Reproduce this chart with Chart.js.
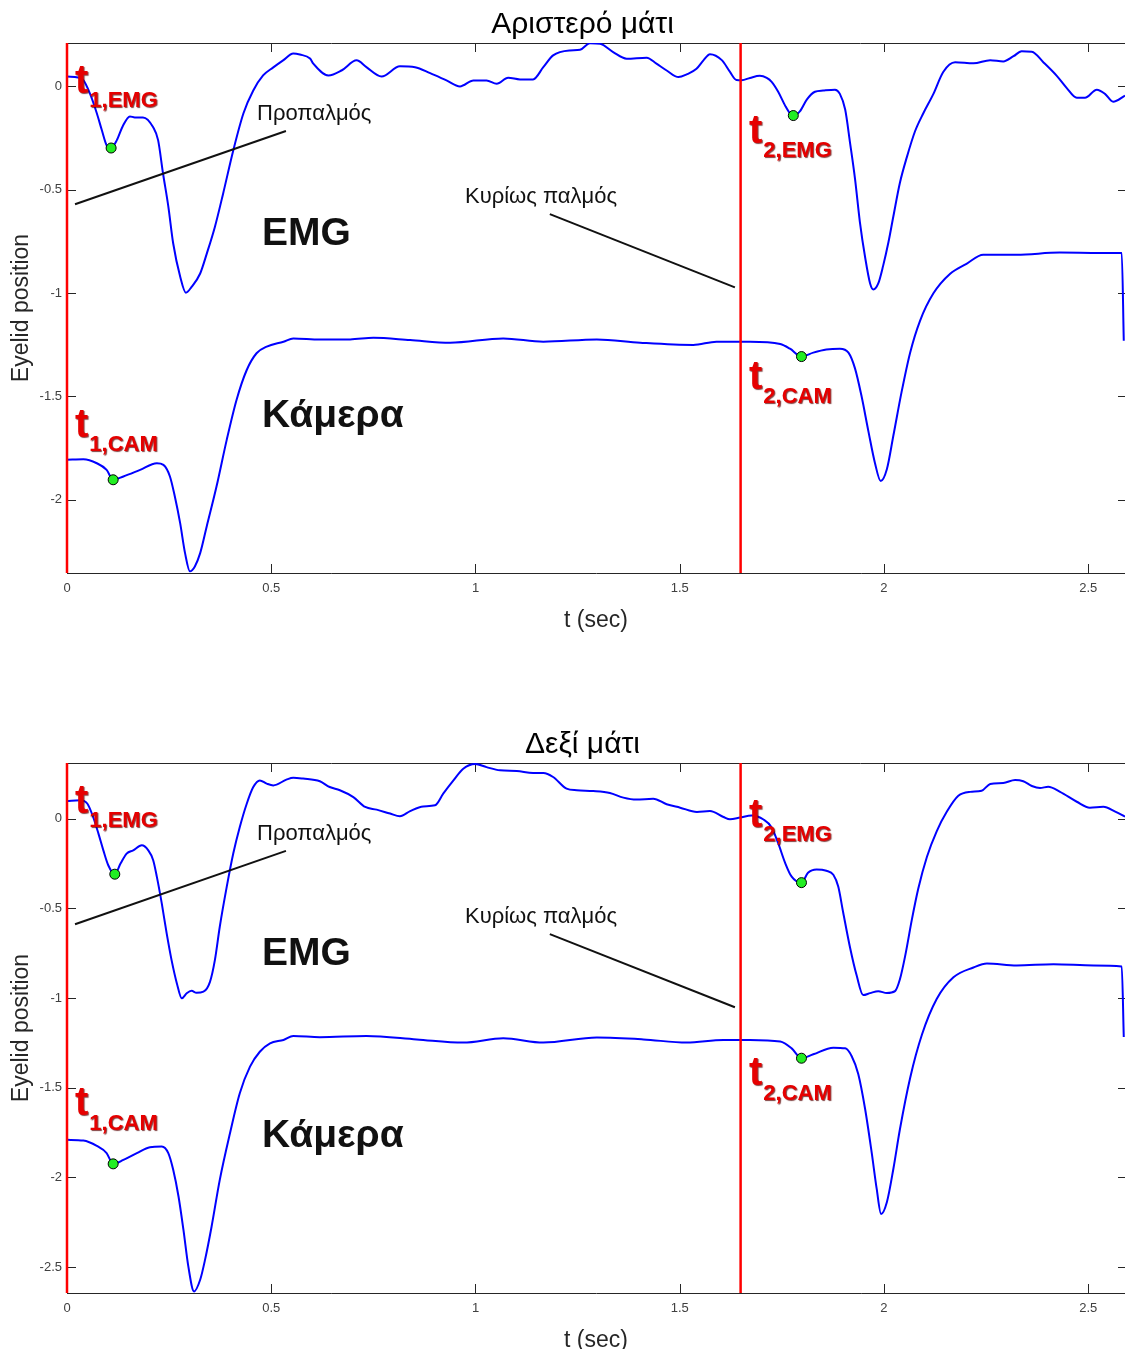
<!DOCTYPE html>
<html>
<head>
<meta charset="utf-8">
<title>Eyelid position</title>
<script src="https://cdn.jsdelivr.net/npm/chart.js@4.4.1/dist/chart.umd.min.js"></script>
<style>
  html, body { margin: 0; padding: 0; background: #fff; overflow: hidden; }
  .panel { position: absolute; left: 0; }
</style>
</head>
<body>
<canvas id="leftEye" class="panel" width="1125" height="640" style="top:0px"></canvas>
<canvas id="rightEye" class="panel" width="1125" height="640" style="top:720px"></canvas>
<script>
// time axis (sec) and y ranges
var tRange = [0, 2.59];
var tickStep = 0.5;
var leftRange = [-2.354, 0.21];
var rightRange = [-2.645, 0.31];
var markerT = [0, 1.649];

// left eye - EMG trace
var leftEmgT = [0.000, 0.027, 0.040, 0.056, 0.073, 0.085, 0.097, 0.108, 0.122, 0.137, 0.154, 0.166, 0.186, 0.211, 0.223,
  0.235, 0.248, 0.260, 0.277, 0.291, 0.305, 0.326, 0.342, 0.362, 0.382, 0.407, 0.432, 0.456, 0.480, 0.505, 0.529, 0.554,
  0.570, 0.595, 0.603, 0.640, 0.672, 0.709, 0.733, 0.770, 0.815, 0.852, 0.889, 0.929, 0.962, 0.995, 1.027, 1.052, 1.080,
  1.109, 1.141, 1.166, 1.190, 1.231, 1.256, 1.280, 1.305, 1.337, 1.370, 1.419, 1.443, 1.468, 1.497, 1.517, 1.541, 1.558,
  1.574, 1.603, 1.623, 1.639, 1.652, 1.672, 1.696, 1.713, 1.725, 1.741, 1.758, 1.770, 1.778, 1.794, 1.811, 1.831, 1.851,
  1.880, 1.892, 1.905, 1.917, 1.929, 1.941, 1.954, 1.966, 1.974, 1.986, 1.998, 2.011, 2.023, 2.039, 2.056, 2.076, 2.096,
  2.121, 2.145, 2.174, 2.219, 2.260, 2.292, 2.317, 2.337, 2.362, 2.390, 2.423, 2.447, 2.472, 2.492, 2.521, 2.541, 2.561, 2.590];
var leftEmgY = [0.048, 0.043, 0.030, -0.034, -0.130, -0.210, -0.285, -0.298, -0.260, -0.190, -0.145, -0.150, -0.150, -0.198, -0.260,
  -0.420, -0.580, -0.760, -0.920, -0.998, -0.970, -0.905, -0.810, -0.680, -0.520, -0.310, -0.130, -0.020, 0.053, 0.092, 0.126, 0.159,
  0.154, 0.135, 0.110, 0.053, 0.077, 0.126, 0.093, 0.048, 0.097, 0.093, 0.064, 0.029, 0.000, 0.029, 0.029, 0.013, 0.042,
  0.034, 0.034, 0.093, 0.150, 0.174, 0.177, 0.209, 0.206, 0.166, 0.134, 0.139, 0.110, 0.077, 0.045, 0.058, 0.085, 0.126,
  0.156, 0.127, 0.070, 0.031, 0.030, 0.041, 0.051, 0.041, 0.022, -0.026, -0.093, -0.131, -0.141, -0.121, -0.064, -0.026, -0.020,
  -0.016, -0.036, -0.112, -0.274, -0.446, -0.656, -0.829, -0.953, -0.982, -0.953, -0.867, -0.753, -0.628, -0.466, -0.342, -0.217, -0.131,
  -0.036, 0.070, 0.117, 0.112, 0.127, 0.121, 0.146, 0.170, 0.168, 0.117, 0.051, -0.007, -0.055, -0.055, -0.016, -0.036, -0.074, -0.045];

// left eye - camera trace
var leftCamT = [0.000, 0.040, 0.073, 0.097, 0.113, 0.138, 0.179, 0.220, 0.236, 0.252, 0.264, 0.277, 0.289, 0.301, 0.313,
  0.326, 0.342, 0.366, 0.391, 0.415, 0.440, 0.464, 0.489, 0.530, 0.554, 0.619, 0.693, 0.750, 0.840, 0.938, 1.068, 1.166,
  1.297, 1.403, 1.533, 1.590, 1.672, 1.746, 1.770, 1.798, 1.827, 1.859, 1.892, 1.913, 1.929, 1.945, 1.962, 1.978, 1.992,
  2.007, 2.023, 2.043, 2.064, 2.088, 2.121, 2.162, 2.202, 2.243, 2.325, 2.430, 2.529, 2.582, 2.587];
var leftCamY = [-1.806, -1.804, -1.823, -1.855, -1.903, -1.887, -1.855, -1.823, -1.831, -1.887, -1.984, -2.113, -2.258, -2.346, -2.322,
  -2.258, -2.129, -1.936, -1.710, -1.517, -1.372, -1.291, -1.259, -1.235, -1.219, -1.224, -1.224, -1.216, -1.227, -1.240, -1.219, -1.235,
  -1.224, -1.240, -1.251, -1.235, -1.235, -1.246, -1.269, -1.307, -1.288, -1.273, -1.269, -1.288, -1.364, -1.498, -1.670, -1.823, -1.909,
  -1.852, -1.689, -1.479, -1.288, -1.135, -1.001, -0.906, -0.858, -0.814, -0.814, -0.804, -0.806, -0.806, -1.230];

// right eye - EMG trace
var rightEmgT = [0.000, 0.032, 0.050, 0.064, 0.077, 0.089, 0.101, 0.117, 0.131, 0.146, 0.162, 0.183, 0.199, 0.211, 0.220,
  0.232, 0.244, 0.256, 0.269, 0.281, 0.293, 0.305, 0.317, 0.334, 0.350, 0.362, 0.374, 0.391, 0.407, 0.423, 0.440, 0.456,
  0.472, 0.489, 0.505, 0.537, 0.554, 0.578, 0.619, 0.643, 0.668, 0.701, 0.730, 0.758, 0.791, 0.815, 0.840, 0.872, 0.901,
  0.921, 0.946, 0.970, 0.999, 1.027, 1.060, 1.101, 1.141, 1.166, 1.190, 1.223, 1.248, 1.288, 1.329, 1.362, 1.394, 1.435,
  1.468, 1.501, 1.542, 1.574, 1.607, 1.623, 1.648, 1.676, 1.705, 1.725, 1.741, 1.758, 1.774, 1.798, 1.814, 1.835, 1.859,
  1.876, 1.888, 1.900, 1.917, 1.933, 1.949, 1.966, 1.986, 2.007, 2.027, 2.039, 2.052, 2.068, 2.084, 2.105, 2.129, 2.154,
  2.182, 2.211, 2.239, 2.260, 2.292, 2.321, 2.341, 2.362, 2.382, 2.402, 2.431, 2.472, 2.504, 2.537, 2.566, 2.590];
var rightEmgY = [0.098, 0.102, 0.083, 0.009, -0.084, -0.177, -0.260, -0.310, -0.251, -0.195, -0.177, -0.149, -0.177, -0.232, -0.325,
  -0.473, -0.640, -0.789, -0.919, -1.002, -0.974, -0.960, -0.971, -0.965, -0.910, -0.789, -0.603, -0.381, -0.195, -0.047, 0.083, 0.176,
  0.213, 0.195, 0.185, 0.217, 0.228, 0.223, 0.208, 0.176, 0.158, 0.120, 0.065, 0.050, 0.028, 0.013, 0.042, 0.068, 0.074,
  0.139, 0.213, 0.278, 0.305, 0.287, 0.269, 0.265, 0.254, 0.254, 0.232, 0.167, 0.158, 0.154, 0.143, 0.117, 0.106, 0.111,
  0.080, 0.061, 0.037, 0.042, 0.009, -0.004, 0.006, 0.017, -0.005, -0.049, -0.137, -0.247, -0.324, -0.357, -0.302, -0.284, -0.291,
  -0.313, -0.379, -0.522, -0.720, -0.874, -0.984, -0.973, -0.962, -0.973, -0.962, -0.896, -0.764, -0.566, -0.390, -0.214, -0.071, 0.039,
  0.127, 0.149, 0.155, 0.193, 0.199, 0.215, 0.208, 0.182, 0.171, 0.177, 0.149, 0.094, 0.061, 0.066, 0.039, 0.011];

// right eye - camera trace
var rightCamT = [0.000, 0.040, 0.073, 0.097, 0.113, 0.138, 0.171, 0.203, 0.232, 0.248, 0.260, 0.273, 0.285, 0.297, 0.311,
  0.326, 0.338, 0.354, 0.374, 0.399, 0.423, 0.448, 0.472, 0.497, 0.530, 0.554, 0.619, 0.733, 0.856, 0.970, 1.068, 1.166,
  1.297, 1.411, 1.517, 1.607, 1.672, 1.746, 1.774, 1.798, 1.827, 1.876, 1.905, 1.921, 1.937, 1.954, 1.970, 1.982, 1.993,
  2.007, 2.023, 2.039, 2.064, 2.093, 2.129, 2.170, 2.219, 2.252, 2.325, 2.415, 2.513, 2.582, 2.587];
var rightCamY = [-1.791, -1.795, -1.825, -1.865, -1.925, -1.903, -1.865, -1.832, -1.828, -1.865, -1.958, -2.107, -2.292, -2.497, -2.636,
  -2.571, -2.459, -2.274, -2.014, -1.754, -1.531, -1.383, -1.300, -1.253, -1.234, -1.212, -1.219, -1.212, -1.231, -1.249, -1.225, -1.249,
  -1.221, -1.231, -1.249, -1.234, -1.234, -1.243, -1.281, -1.336, -1.314, -1.277, -1.281, -1.325, -1.424, -1.622, -1.864, -2.062, -2.205,
  -2.139, -1.952, -1.732, -1.446, -1.204, -1.006, -0.885, -0.830, -0.808, -0.819, -0.812, -0.819, -0.825, -1.218];

// onset points (t1, t2 for EMG and camera)
var leftDotsT = [0.108, 0.113, 1.778, 1.798];
var leftDotsY = [-0.298, -1.903, -0.141, -1.307];
var rightDotsT = [0.117, 0.113, 1.798, 1.798];
var rightDotsY = [-0.310, -1.925, -0.357, -1.336];

// pointer lines for the labels
var leftPreT = [0.0196, 0.536], leftPreY = [-0.570, -0.216];
var leftMainT = [1.182, 1.635], leftMainY = [-0.618, -0.972];
var rightPreT = [0.0196, 0.536], rightPreY = [-0.589, -0.180];
var rightMainT = [1.182, 1.635], rightMainY = [-0.644, -1.052];

Chart.defaults.font.family = "'Liberation Sans', Arial, sans-serif";

function pts(ts, ys) {
  return ts.map(function (t, i) { return { x: t, y: ys[i] }; });
}

// matlab-like tick text: 1 not 1.0
function tickText(v) {
  return String(Math.round(v * 10) / 10);
}

// no extra room for labels, the plot box is fixed
function fixBox(size, key) {
  return function (s) {
    s[key] = size;
    s.paddingLeft = 0; s.paddingRight = 0; s.paddingTop = 0; s.paddingBottom = 0;
  };
}

// top edge + inner tick marks (matlab style), right edge is cut off in the original
var framePlugin = {
  id: 'frame',
  beforeDatasetsDraw: function (chart) {
    var ctx = chart.ctx, a = chart.chartArea;
    var xs = chart.scales.x, ys = chart.scales.y;
    ctx.save();
    ctx.strokeStyle = '#262626';
    ctx.lineWidth = 1;
    ctx.beginPath();
    ctx.moveTo(a.left, a.top + 0.5); ctx.lineTo(a.right, a.top + 0.5);
    xs.ticks.forEach(function (t) {
      var px = Math.round(xs.getPixelForValue(t.value)) + 0.5;
      ctx.moveTo(px, a.bottom); ctx.lineTo(px, a.bottom - 9);
      ctx.moveTo(px, a.top); ctx.lineTo(px, a.top + 9);
    });
    ys.ticks.forEach(function (t) {
      var py = Math.round(ys.getPixelForValue(t.value)) + 0.5;
      ctx.moveTo(a.left, py); ctx.lineTo(a.left + 9, py);
      ctx.moveTo(a.right, py); ctx.lineTo(a.right - 7, py);
    });
    ctx.stroke();
    ctx.restore();
  }
};

// title, t-labels and text notes
var notesPlugin = {
  id: 'notes',
  afterDatasetsDraw: function (chart, args, opts) {
    var ctx = chart.ctx;
    var fam = Chart.defaults.font.family;
    ctx.save();
    ctx.textBaseline = 'alphabetic';
    ctx.textAlign = 'center';
    ctx.fillStyle = '#000';
    ctx.font = '30px ' + fam;
    ctx.fillText(opts.title, 582.5, 33);
    ctx.textAlign = 'left';
    opts.texts.forEach(function (n) {
      ctx.font = (n.bold ? 'bold ' : '') + n.size + 'px ' + fam;
      ctx.fillStyle = '#111';
      ctx.fillText(n.text, n.x, n.y);
    });
    ctx.shadowColor = 'rgba(90,0,0,0.75)';
    ctx.shadowOffsetX = 1;
    ctx.shadowOffsetY = 1;
    ctx.shadowBlur = 1;
    ctx.fillStyle = '#e60000';
    opts.marks.forEach(function (m) {
      ctx.font = 'bold 40px ' + fam;
      ctx.fillText('t', m.x, m.y);
      var w = ctx.measureText('t').width;
      ctx.font = 'bold 22px ' + fam;
      ctx.fillText(m.sub, m.x + w + 1, m.sub_y);
    });
    ctx.restore();
  }
};

function makeChart(id, title, range, emg, cam, dots, pre, main, marks) {
  var blue = { borderColor: '#0000ff', borderWidth: 2, pointRadius: 0, fill: false, cubicInterpolationMode: 'monotone', order: 3 };
  var datasets = [
    Object.assign({ data: pts(emg[0], emg[1]) }, blue),
    Object.assign({ data: pts(cam[0], cam[1]) }, blue),
    { data: pts(pre[0], pre[1]), borderColor: '#111', borderWidth: 2, pointRadius: 0, order: 2 },
    { data: pts(main[0], main[1]), borderColor: '#111', borderWidth: 2, pointRadius: 0, order: 2 }
  ];
  markerT.forEach(function (t) {
    datasets.push({ data: [{ x: t, y: range[0] }, { x: t, y: range[1] }], borderColor: '#ff0000', borderWidth: 2.5,
      pointRadius: 0, clip: 3, order: 1 });
  });
  datasets.push({ data: pts(dots[0], dots[1]), showLine: false, pointRadius: 5, pointBackgroundColor: '#22ee22',
    pointBorderColor: '#000', pointBorderWidth: 1, order: 0 });

  return new Chart(document.getElementById(id).getContext('2d'), {
    type: 'line',
    data: { datasets: datasets },
    options: {
      responsive: false,
      animation: false,
      devicePixelRatio: 1,
      layout: { autoPadding: false, padding: { top: 43, right: 0, bottom: 0, left: 0 } },
      plugins: {
        legend: { display: false },
        tooltip: { enabled: false },
        notes: {
          title: title,
          texts: [
            { text: 'Προπαλμός', x: 257, y: 120, size: 22 },
            { text: 'Κυρίως παλμός', x: 465, y: 203, size: 22 },
            { text: 'EMG', x: 262, y: 245, size: 39, bold: true },
            { text: 'Κάμερα', x: 262, y: 427, size: 39, bold: true }
          ],
          marks: marks
        }
      },
      scales: {
        x: {
          type: 'linear', min: tRange[0], max: tRange[1],
          afterFit: fixBox(67, 'height'),
          grid: { display: false, drawTicks: false },
          border: { display: true, color: '#262626' },
          ticks: { stepSize: tickStep, includeBounds: false, padding: 8, color: '#404040', font: { size: 13 },
            maxRotation: 0, autoSkip: false, callback: tickText },
          title: { display: true, text: 't (sec)', color: '#262626', font: { size: 23 }, padding: { top: 0, bottom: 6 } }
        },
        y: {
          type: 'linear', min: range[0], max: range[1],
          afterFit: fixBox(67, 'width'),
          grid: { display: false, drawTicks: false },
          border: { display: true, color: '#262626' },
          ticks: { stepSize: tickStep, includeBounds: false, padding: 5, color: '#404040', font: { size: 13 },
            callback: tickText },
          title: { display: true, text: 'Eyelid position', color: '#262626', font: { size: 23 }, padding: { top: 8, bottom: 0 } }
        }
      }
    },
    plugins: [framePlugin, notesPlugin]
  });
}

makeChart('leftEye', 'Αριστερό μάτι', leftRange, [leftEmgT, leftEmgY], [leftCamT, leftCamY],
  [leftDotsT, leftDotsY], [leftPreT, leftPreY], [leftMainT, leftMainY], [
    { sub: '1,EMG', x: 75, y: 93, sub_y: 107 },
    { sub: '1,CAM', x: 75, y: 437, sub_y: 451 },
    { sub: '2,EMG', x: 749, y: 143, sub_y: 157 },
    { sub: '2,CAM', x: 749, y: 389, sub_y: 403 }
  ]);

makeChart('rightEye', 'Δεξί μάτι', rightRange, [rightEmgT, rightEmgY], [rightCamT, rightCamY],
  [rightDotsT, rightDotsY], [rightPreT, rightPreY], [rightMainT, rightMainY], [
    { sub: '1,EMG', x: 75, y: 93, sub_y: 107 },
    { sub: '1,CAM', x: 75, y: 395, sub_y: 410 },
    { sub: '2,EMG', x: 749, y: 107, sub_y: 121 },
    { sub: '2,CAM', x: 749, y: 365, sub_y: 380 }
  ]);
</script>
</body>
</html>
